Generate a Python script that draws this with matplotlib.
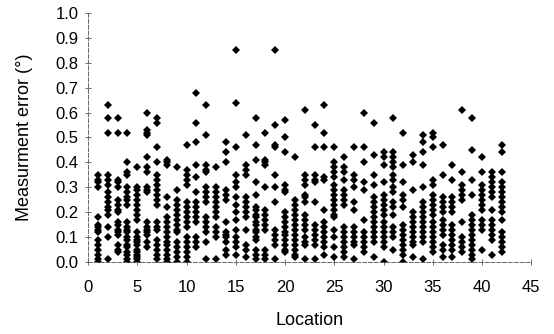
import matplotlib.pyplot as plt

# measurement errors (deg) read per location
err_01 = [0.35, 0.33, 0.32, 0.30, 0.18, 0.15, 0.14, 0.13, 0.12, 0.09, 0.07, 0.05, 0.03, 0.01, 0.0]
err_02 = [0.63, 0.58, 0.52, 0.35, 0.33, 0.31, 0.28, 0.26, 0.24, 0.22, 0.21, 0.19, 0.14, 0.10, 0.01]
err_03 = [0.58, 0.52, 0.33, 0.32, 0.30, 0.25, 0.23, 0.21, 0.20, 0.16, 0.15, 0.13, 0.12, 0.11, 0.07, 0.05, 0.04]
err_04 = [0.52, 0.40, 0.36, 0.35, 0.30, 0.28, 0.26, 0.25, 0.23, 0.16, 0.14, 0.13, 0.12, 0.10, 0.09, 0.07,
          0.06, 0.04, 0.03, 0.01, 0.0]
err_05 = [0.38, 0.30, 0.29, 0.27, 0.25, 0.23, 0.21, 0.19, 0.17, 0.12, 0.10, 0.09, 0.08, 0.07, 0.05, 0.04,
          0.03, 0.02, 0.01, 0.0]
err_06 = [0.60, 0.53, 0.52, 0.51, 0.42, 0.38, 0.36, 0.30, 0.29, 0.28, 0.16, 0.14, 0.13, 0.12, 0.11, 0.08, 0.06]
err_07 = [0.58, 0.56, 0.46, 0.40, 0.35, 0.33, 0.31, 0.29, 0.27, 0.25, 0.23, 0.16, 0.14, 0.13, 0.09, 0.07,
          0.05, 0.03, 0.01]
err_08 = [0.41, 0.40, 0.39, 0.26, 0.22, 0.18, 0.16, 0.14, 0.12, 0.10, 0.08, 0.07, 0.05, 0.03, 0.01, 0.0]
err_09 = [0.38, 0.29, 0.25, 0.23, 0.21, 0.19, 0.17, 0.15, 0.13, 0.12, 0.08, 0.06, 0.04, 0.02, 0.0]
err_10 = [0.47, 0.37, 0.35, 0.33, 0.31, 0.24, 0.22, 0.20, 0.18, 0.16, 0.14, 0.10, 0.08, 0.06, 0.04, 0.02, 0.0]
err_11 = [0.68, 0.56, 0.48, 0.39, 0.34, 0.28, 0.24, 0.22, 0.20, 0.18, 0.16, 0.10, 0.08, 0.06]
err_12 = [0.63, 0.51, 0.39, 0.37, 0.36, 0.30, 0.28, 0.26, 0.24, 0.18, 0.16, 0.14, 0.12, 0.08, 0.01]
err_13 = [0.38, 0.30, 0.28, 0.26, 0.24, 0.22, 0.20, 0.18, 0.14, 0.12, 0.10, 0.01]
err_14 = [0.48, 0.44, 0.40, 0.29, 0.27, 0.25, 0.16, 0.12, 0.11, 0.10, 0.08, 0.05, 0.03]
err_15 = [0.85, 0.64, 0.46, 0.35, 0.32, 0.30, 0.26, 0.23, 0.20, 0.17, 0.13, 0.10, 0.08, 0.06, 0.03]
err_16 = [0.51, 0.39, 0.37, 0.35, 0.26, 0.24, 0.22, 0.20, 0.18, 0.13, 0.07, 0.05, 0.02]
err_17 = [0.58, 0.47, 0.41, 0.32, 0.27, 0.22, 0.21, 0.19, 0.18, 0.16, 0.15, 0.13, 0.12, 0.10, 0.09, 0.05,
          0.03, 0.01]
err_18 = [0.52, 0.41, 0.40, 0.39, 0.30, 0.21, 0.19, 0.17, 0.15, 0.13, 0.05, 0.03, 0.01]
err_19 = [0.85, 0.55, 0.47, 0.46, 0.35, 0.30, 0.24, 0.13, 0.11, 0.09, 0.07, 0.01]
err_20 = [0.57, 0.50, 0.44, 0.31, 0.29, 0.28, 0.20, 0.18, 0.16, 0.14, 0.12, 0.11, 0.09, 0.07, 0.05, 0.04]
err_21 = [0.42, 0.25, 0.23, 0.21, 0.19, 0.17, 0.15, 0.13, 0.11, 0.09, 0.07, 0.05, 0.03, 0.02]
err_22 = [0.61, 0.35, 0.33, 0.31, 0.27, 0.26, 0.24, 0.19, 0.17, 0.15, 0.13, 0.10, 0.08, 0.07, 0.01]
err_23 = [0.55, 0.46, 0.35, 0.33, 0.32, 0.24, 0.15, 0.13, 0.11, 0.09, 0.07, 0.01]
err_24 = [0.63, 0.52, 0.46, 0.34, 0.33, 0.21, 0.16, 0.14, 0.12, 0.10, 0.08, 0.06, 0.03]
err_25 = [0.46, 0.40, 0.38, 0.36, 0.34, 0.31, 0.29, 0.27, 0.25, 0.23, 0.21, 0.19, 0.18, 0.13, 0.10, 0.06, 0.02]
err_26 = [0.42, 0.38, 0.36, 0.33, 0.29, 0.27, 0.25, 0.23, 0.14, 0.12, 0.10, 0.08, 0.06, 0.04, 0.02]
err_27 = [0.46, 0.35, 0.33, 0.30, 0.24, 0.21, 0.14, 0.12, 0.10, 0.08, 0.07, 0.01]
err_28 = [0.60, 0.46, 0.40, 0.32, 0.29, 0.17, 0.12, 0.10, 0.08, 0.06, 0.04]
err_29 = [0.56, 0.43, 0.35, 0.31, 0.26, 0.24, 0.22, 0.20, 0.18, 0.16, 0.14, 0.12, 0.10, 0.08, 0.02]
err_30 = [0.44, 0.42, 0.39, 0.32, 0.27, 0.25, 0.23, 0.21, 0.19, 0.16, 0.14, 0.12, 0.10, 0.08, 0.06, 0.0]
err_31 = [0.58, 0.44, 0.42, 0.40, 0.38, 0.35, 0.33, 0.30, 0.28, 0.24, 0.22, 0.19, 0.14, 0.12, 0.10, 0.05]
err_32 = [0.52, 0.39, 0.32, 0.27, 0.25, 0.22, 0.15, 0.13, 0.11, 0.09, 0.07, 0.05, 0.03, 0.0]
err_33 = [0.43, 0.40, 0.29, 0.20, 0.18, 0.16, 0.14, 0.12, 0.10, 0.08, 0.07, 0.02]
err_34 = [0.51, 0.48, 0.44, 0.39, 0.30, 0.24, 0.22, 0.20, 0.18, 0.16, 0.14, 0.12, 0.10, 0.08, 0.01]
err_35 = [0.52, 0.50, 0.46, 0.33, 0.31, 0.27, 0.25, 0.23, 0.21, 0.19, 0.16, 0.14, 0.12, 0.10, 0.08, 0.06, 0.04]
err_36 = [0.47, 0.35, 0.26, 0.24, 0.22, 0.20, 0.17, 0.15, 0.13, 0.11, 0.07, 0.05, 0.02]
err_37 = [0.39, 0.33, 0.26, 0.24, 0.22, 0.20, 0.15, 0.13, 0.11, 0.09, 0.07, 0.05, 0.02]
err_38 = [0.61, 0.36, 0.31, 0.29, 0.27, 0.25, 0.16, 0.10, 0.08, 0.06, 0.04]
err_39 = [0.58, 0.45, 0.33, 0.27, 0.19, 0.17, 0.15, 0.13, 0.11, 0.09, 0.07, 0.05, 0.03, 0.01]
err_40 = [0.42, 0.36, 0.31, 0.29, 0.27, 0.25, 0.23, 0.21, 0.17, 0.15, 0.13, 0.05]
err_41 = [0.36, 0.34, 0.32, 0.30, 0.28, 0.26, 0.21, 0.17, 0.15, 0.13, 0.11, 0.09, 0.03]
err_42 = [0.47, 0.44, 0.36, 0.32, 0.30, 0.28, 0.26, 0.24, 0.22, 0.20, 0.17, 0.12, 0.10, 0.08, 0.06, 0.04]

columns = [err_01, err_02, err_03, err_04, err_05, err_06, err_07, err_08, err_09, err_10,
           err_11, err_12, err_13, err_14, err_15, err_16, err_17, err_18, err_19, err_20,
           err_21, err_22, err_23, err_24, err_25, err_26, err_27, err_28, err_29, err_30,
           err_31, err_32, err_33, err_34, err_35, err_36, err_37, err_38, err_39, err_40,
           err_41, err_42]

x_ticks = [0, 5, 10, 15, 20, 25, 30, 35, 40, 45]
y_ticks = [0.0, 0.1, 0.2, 0.3, 0.4, 0.5, 0.6, 0.7, 0.8, 0.9, 1.0]

plt.rcParams['font.family'] = ['Liberation Sans', 'DejaVu Sans']

fig = plt.figure(figsize=(5.54, 3.34), dpi=100)
ax = fig.add_axes([0.159, 0.2156, 0.800, 0.7455])

xs, ys = [], []
for loc, vals in enumerate(columns, start=1):
    xs += [loc] * len(vals)
    ys += vals
ax.plot(xs, ys, linestyle='none', marker='D', markersize=3.9,
        color='black', markeredgewidth=0)

ax.set_xlim(0, 45)
ax.set_ylim(0, 1.0)
ax.set_xticks(x_ticks)
ax.set_yticks(y_ticks)
ax.set_yticklabels([f'{v:.1f}' for v in y_ticks])
ax.tick_params(direction='inout', length=4, width=0.6, color='#555555',
               labelsize=12, pad=5)
ax.tick_params(axis='x', pad=11)

for side in ['top', 'right']:
    ax.spines[side].set_visible(False)
for side in ['left', 'bottom']:
    ax.spines[side].set_linewidth(0.7)
    ax.spines[side].set_color('#666666')
    ax.spines[side].set_linestyle((0, (4, 2)))

ax.set_xlabel('Location', fontsize=13, labelpad=12)
ax.set_ylabel('Measurment error (°)', fontsize=13, labelpad=16)

fig.savefig('out.png', dpi=100)
